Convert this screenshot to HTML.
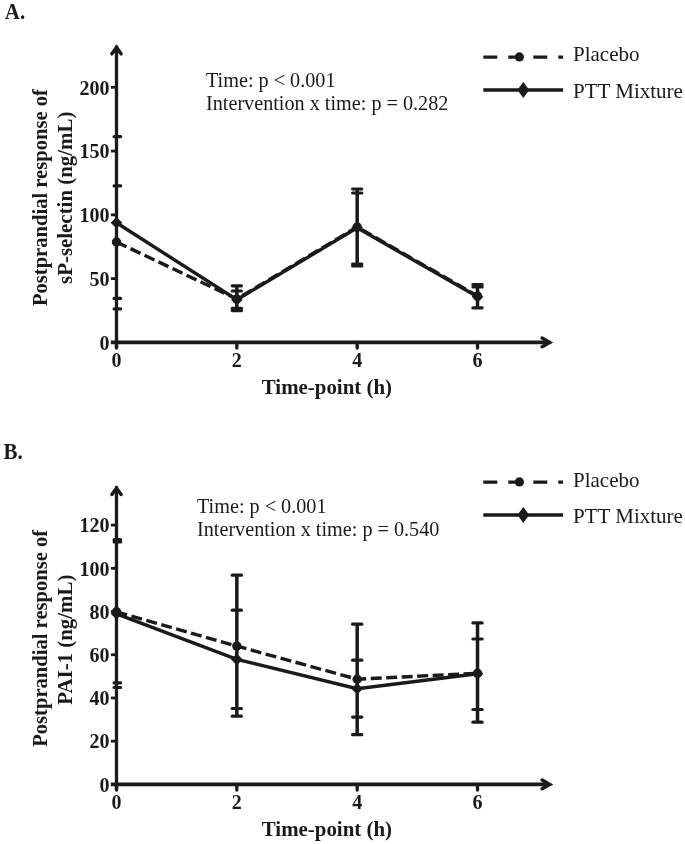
<!DOCTYPE html>
<html><head><meta charset="utf-8"><style>
html,body{margin:0;padding:0;background:#fff;}
svg{display:block;will-change:transform;}
.b{font-family:'Liberation Serif', serif;font-weight:bold;fill:#1a1a1a;}
.r{font-family:'Liberation Serif', serif;font-weight:normal;fill:#1a1a1a;}
</style></head><body>
<svg width="685" height="844" viewBox="0 0 685 844">
<rect width="685" height="844" fill="#fff"/>
<text transform="translate(4.8,18.7) scale(1,1.09)" class="b" font-size="21">A.</text>
<line x1="116.5" y1="45.6" x2="116.5" y2="348.0" stroke="#1a1a1a" stroke-width="3.3"/>
<polyline points="111.9,53.8 116.5,47.5 121.1,53.8" fill="none" stroke="#1a1a1a" stroke-width="3.5" stroke-linecap="round" stroke-linejoin="miter"/>
<line x1="110.9" y1="342.4" x2="549" y2="342.4" stroke="#1a1a1a" stroke-width="3.8"/>
<polyline points="542.1,338.09999999999997 549.7,342.4 542.1,346.7" fill="none" stroke="#1a1a1a" stroke-width="3.5" stroke-linecap="round" stroke-linejoin="miter"/>
<line x1="110.9" y1="342.40" x2="116.5" y2="342.40" stroke="#1a1a1a" stroke-width="2.8"/>
<text x="109.5" y="349.60" class="b" font-size="20" text-anchor="end">0</text>
<line x1="110.9" y1="278.62" x2="116.5" y2="278.62" stroke="#1a1a1a" stroke-width="2.8"/>
<text x="109.5" y="285.82" class="b" font-size="20" text-anchor="end">50</text>
<line x1="110.9" y1="214.85" x2="116.5" y2="214.85" stroke="#1a1a1a" stroke-width="2.8"/>
<text x="109.5" y="222.05" class="b" font-size="20" text-anchor="end">100</text>
<line x1="110.9" y1="151.07" x2="116.5" y2="151.07" stroke="#1a1a1a" stroke-width="2.8"/>
<text x="109.5" y="158.27" class="b" font-size="20" text-anchor="end">150</text>
<line x1="110.9" y1="87.30" x2="116.5" y2="87.30" stroke="#1a1a1a" stroke-width="2.8"/>
<text x="109.5" y="94.50" class="b" font-size="20" text-anchor="end">200</text>
<line x1="116.50" y1="342.4" x2="116.50" y2="348.0" stroke="#1a1a1a" stroke-width="3.3" stroke-linecap="round"/>
<text x="116.50" y="367.1" class="b" font-size="20" text-anchor="middle">0</text>
<line x1="236.84" y1="342.4" x2="236.84" y2="348.0" stroke="#1a1a1a" stroke-width="3.3" stroke-linecap="round"/>
<text x="236.84" y="367.1" class="b" font-size="20" text-anchor="middle">2</text>
<line x1="357.18" y1="342.4" x2="357.18" y2="348.0" stroke="#1a1a1a" stroke-width="3.3" stroke-linecap="round"/>
<text x="357.18" y="367.1" class="b" font-size="20" text-anchor="middle">4</text>
<line x1="477.52" y1="342.4" x2="477.52" y2="348.0" stroke="#1a1a1a" stroke-width="3.3" stroke-linecap="round"/>
<text x="477.52" y="367.1" class="b" font-size="20" text-anchor="middle">6</text>
<text x="326.9" y="393.9" class="b" font-size="20.9" text-anchor="middle">Time-point (h)</text>
<g transform="translate(46.8,197.6) rotate(-90)"><text x="0" y="0" class="b" font-size="20.6" text-anchor="middle">Postprandial response of</text></g>
<g transform="translate(72.1,197.8) rotate(-90)"><text x="0" y="0" class="b" font-size="20.9" text-anchor="middle">sP-selectin (ng/mL)</text></g>
<text x="206" y="87.3" class="r" font-size="20.2">Time: p &lt; 0.001</text>
<text x="206" y="110.1" class="r" font-size="20.2">Intervention x time: p = 0.282</text>
<line x1="483.3" y1="57.1" x2="563.1" y2="57.1" stroke="#1a1a1a" stroke-width="3.4" stroke-dasharray="14,11" />
<circle cx="519.4" cy="56.9" r="4.6" fill="#1a1a1a"/>
<line x1="483.3" y1="90" x2="563.1" y2="90" stroke="#1a1a1a" stroke-width="3.4"/>
<polygon points="523.3,81.9 529.2,90 523.3,98.1 517.4,90" fill="#1a1a1a"/>
<text x="573" y="61.4" class="r" font-size="21">Placebo</text>
<text x="573" y="98" class="r" font-size="21">PTT Mixture</text>
<line x1="114.10" y1="136.6" x2="120.60" y2="136.6" stroke="#1a1a1a" stroke-width="3.2" stroke-linecap="round"/>
<line x1="114.10" y1="185.9" x2="120.60" y2="185.9" stroke="#1a1a1a" stroke-width="3.2" stroke-linecap="round"/>
<line x1="114.10" y1="298.4" x2="120.60" y2="298.4" stroke="#1a1a1a" stroke-width="3.2" stroke-linecap="round"/>
<line x1="114.10" y1="308.9" x2="120.60" y2="308.9" stroke="#1a1a1a" stroke-width="3.2" stroke-linecap="round"/>
<line x1="236.84" y1="285.8" x2="236.84" y2="310.6" stroke="#1a1a1a" stroke-width="3.5"/>
<line x1="232.24" y1="285.8" x2="241.44" y2="285.8" stroke="#1a1a1a" stroke-width="3.2" stroke-linecap="round"/>
<line x1="232.24" y1="291" x2="241.44" y2="291" stroke="#1a1a1a" stroke-width="3.2" stroke-linecap="round"/>
<line x1="232.24" y1="308.3" x2="241.44" y2="308.3" stroke="#1a1a1a" stroke-width="3.2" stroke-linecap="round"/>
<line x1="232.24" y1="310.6" x2="241.44" y2="310.6" stroke="#1a1a1a" stroke-width="3.2" stroke-linecap="round"/>
<line x1="357.18" y1="189" x2="357.18" y2="266" stroke="#1a1a1a" stroke-width="3.5"/>
<line x1="352.58" y1="189" x2="361.78" y2="189" stroke="#1a1a1a" stroke-width="3.2" stroke-linecap="round"/>
<line x1="352.58" y1="193" x2="361.78" y2="193" stroke="#1a1a1a" stroke-width="3.2" stroke-linecap="round"/>
<line x1="352.58" y1="264" x2="361.78" y2="264" stroke="#1a1a1a" stroke-width="3.2" stroke-linecap="round"/>
<line x1="352.58" y1="266" x2="361.78" y2="266" stroke="#1a1a1a" stroke-width="3.2" stroke-linecap="round"/>
<line x1="477.52" y1="284.5" x2="477.52" y2="307.8" stroke="#1a1a1a" stroke-width="3.5"/>
<line x1="472.92" y1="284.5" x2="482.12" y2="284.5" stroke="#1a1a1a" stroke-width="3.2" stroke-linecap="round"/>
<line x1="472.92" y1="287" x2="482.12" y2="287" stroke="#1a1a1a" stroke-width="3.2" stroke-linecap="round"/>
<line x1="472.92" y1="307.8" x2="482.12" y2="307.8" stroke="#1a1a1a" stroke-width="3.2" stroke-linecap="round"/>
<polyline points="116.50,242 236.84,299.0 357.18,227.0 477.52,296.0" fill="none" stroke="#1a1a1a" stroke-width="3.4" stroke-dasharray="11,4.5"/>
<polyline points="116.50,222.8 236.84,299.8 357.18,227.8 477.52,296.8" fill="none" stroke="#1a1a1a" stroke-width="3.4"/>
<circle cx="116.50" cy="242" r="4.7" fill="#1a1a1a"/>
<circle cx="236.84" cy="299.0" r="4.7" fill="#1a1a1a"/>
<circle cx="357.18" cy="227.0" r="4.7" fill="#1a1a1a"/>
<circle cx="477.52" cy="296.0" r="4.7" fill="#1a1a1a"/>
<polygon points="116.50,217.0 122.30,222.8 116.50,228.60000000000002 110.70,222.8" fill="#1a1a1a"/>
<polygon points="236.84,294.0 242.64,299.8 236.84,305.6 231.04,299.8" fill="#1a1a1a"/>
<polygon points="357.18,222.0 362.98,227.8 357.18,233.60000000000002 351.38,227.8" fill="#1a1a1a"/>
<polygon points="477.52,291.0 483.32,296.8 477.52,302.6 471.72,296.8" fill="#1a1a1a"/>
<text transform="translate(3.6,459.3) scale(1,1.09)" class="b" font-size="21">B.</text>
<line x1="116.5" y1="486.3" x2="116.5" y2="790.0" stroke="#1a1a1a" stroke-width="3.3"/>
<polyline points="111.9,494.5 116.5,488.2 121.1,494.5" fill="none" stroke="#1a1a1a" stroke-width="3.5" stroke-linecap="round" stroke-linejoin="miter"/>
<line x1="110.9" y1="784.4" x2="549" y2="784.4" stroke="#1a1a1a" stroke-width="3.8"/>
<polyline points="542.1,780.1 549.7,784.4 542.1,788.6999999999999" fill="none" stroke="#1a1a1a" stroke-width="3.5" stroke-linecap="round" stroke-linejoin="miter"/>
<line x1="110.9" y1="784.40" x2="116.5" y2="784.40" stroke="#1a1a1a" stroke-width="2.8"/>
<text x="109.5" y="791.60" class="b" font-size="20" text-anchor="end">0</text>
<line x1="110.9" y1="741.18" x2="116.5" y2="741.18" stroke="#1a1a1a" stroke-width="2.8"/>
<text x="109.5" y="748.38" class="b" font-size="20" text-anchor="end">20</text>
<line x1="110.9" y1="697.96" x2="116.5" y2="697.96" stroke="#1a1a1a" stroke-width="2.8"/>
<text x="109.5" y="705.16" class="b" font-size="20" text-anchor="end">40</text>
<line x1="110.9" y1="654.74" x2="116.5" y2="654.74" stroke="#1a1a1a" stroke-width="2.8"/>
<text x="109.5" y="661.94" class="b" font-size="20" text-anchor="end">60</text>
<line x1="110.9" y1="611.52" x2="116.5" y2="611.52" stroke="#1a1a1a" stroke-width="2.8"/>
<text x="109.5" y="618.72" class="b" font-size="20" text-anchor="end">80</text>
<line x1="110.9" y1="568.30" x2="116.5" y2="568.30" stroke="#1a1a1a" stroke-width="2.8"/>
<text x="109.5" y="575.50" class="b" font-size="20" text-anchor="end">100</text>
<line x1="110.9" y1="525.08" x2="116.5" y2="525.08" stroke="#1a1a1a" stroke-width="2.8"/>
<text x="109.5" y="532.28" class="b" font-size="20" text-anchor="end">120</text>
<line x1="116.50" y1="784.4" x2="116.50" y2="790.0" stroke="#1a1a1a" stroke-width="3.3" stroke-linecap="round"/>
<text x="116.50" y="809" class="b" font-size="20" text-anchor="middle">0</text>
<line x1="236.84" y1="784.4" x2="236.84" y2="790.0" stroke="#1a1a1a" stroke-width="3.3" stroke-linecap="round"/>
<text x="236.84" y="809" class="b" font-size="20" text-anchor="middle">2</text>
<line x1="357.18" y1="784.4" x2="357.18" y2="790.0" stroke="#1a1a1a" stroke-width="3.3" stroke-linecap="round"/>
<text x="357.18" y="809" class="b" font-size="20" text-anchor="middle">4</text>
<line x1="477.52" y1="784.4" x2="477.52" y2="790.0" stroke="#1a1a1a" stroke-width="3.3" stroke-linecap="round"/>
<text x="477.52" y="809" class="b" font-size="20" text-anchor="middle">6</text>
<text x="326.9" y="835.8" class="b" font-size="20.9" text-anchor="middle">Time-point (h)</text>
<g transform="translate(46.80000000000001,638.3) rotate(-90)"><text x="0" y="0" class="b" font-size="20.6" text-anchor="middle">Postprandial response of</text></g>
<g transform="translate(72.1,639.7) rotate(-90)"><text x="0" y="0" class="b" font-size="20.9" text-anchor="middle">PAI-1 (ng/mL)</text></g>
<text x="197" y="512.8" class="r" font-size="20.2">Time: p &lt; 0.001</text>
<text x="197" y="535.5" class="r" font-size="20.2">Intervention x time: p = 0.540</text>
<line x1="483.3" y1="482.1" x2="563.1" y2="482.1" stroke="#1a1a1a" stroke-width="3.4" stroke-dasharray="14,11" />
<circle cx="519.4" cy="481.90000000000003" r="4.6" fill="#1a1a1a"/>
<line x1="483.3" y1="515" x2="563.1" y2="515" stroke="#1a1a1a" stroke-width="3.4"/>
<polygon points="523.3,506.9 529.2,515 523.3,523.1 517.4,515" fill="#1a1a1a"/>
<text x="573" y="486.7" class="r" font-size="21">Placebo</text>
<text x="573" y="523" class="r" font-size="21">PTT Mixture</text>
<line x1="114.10" y1="539.7" x2="120.60" y2="539.7" stroke="#1a1a1a" stroke-width="3.2" stroke-linecap="round"/>
<line x1="114.10" y1="541.9" x2="120.60" y2="541.9" stroke="#1a1a1a" stroke-width="3.2" stroke-linecap="round"/>
<line x1="114.10" y1="682.8" x2="120.60" y2="682.8" stroke="#1a1a1a" stroke-width="3.2" stroke-linecap="round"/>
<line x1="114.10" y1="687.5" x2="120.60" y2="687.5" stroke="#1a1a1a" stroke-width="3.2" stroke-linecap="round"/>
<line x1="236.84" y1="575.2" x2="236.84" y2="716.2" stroke="#1a1a1a" stroke-width="3.5"/>
<line x1="232.24" y1="575.2" x2="241.44" y2="575.2" stroke="#1a1a1a" stroke-width="3.2" stroke-linecap="round"/>
<line x1="232.24" y1="610.2" x2="241.44" y2="610.2" stroke="#1a1a1a" stroke-width="3.2" stroke-linecap="round"/>
<line x1="232.24" y1="708.5" x2="241.44" y2="708.5" stroke="#1a1a1a" stroke-width="3.2" stroke-linecap="round"/>
<line x1="232.24" y1="716.2" x2="241.44" y2="716.2" stroke="#1a1a1a" stroke-width="3.2" stroke-linecap="round"/>
<line x1="357.18" y1="624.2" x2="357.18" y2="734.7" stroke="#1a1a1a" stroke-width="3.5"/>
<line x1="352.58" y1="624.2" x2="361.78" y2="624.2" stroke="#1a1a1a" stroke-width="3.2" stroke-linecap="round"/>
<line x1="352.58" y1="660.2" x2="361.78" y2="660.2" stroke="#1a1a1a" stroke-width="3.2" stroke-linecap="round"/>
<line x1="352.58" y1="717.1" x2="361.78" y2="717.1" stroke="#1a1a1a" stroke-width="3.2" stroke-linecap="round"/>
<line x1="352.58" y1="734.7" x2="361.78" y2="734.7" stroke="#1a1a1a" stroke-width="3.2" stroke-linecap="round"/>
<line x1="477.52" y1="622.9" x2="477.52" y2="722.2" stroke="#1a1a1a" stroke-width="3.5"/>
<line x1="472.92" y1="622.9" x2="482.12" y2="622.9" stroke="#1a1a1a" stroke-width="3.2" stroke-linecap="round"/>
<line x1="472.92" y1="639" x2="482.12" y2="639" stroke="#1a1a1a" stroke-width="3.2" stroke-linecap="round"/>
<line x1="472.92" y1="709.5" x2="482.12" y2="709.5" stroke="#1a1a1a" stroke-width="3.2" stroke-linecap="round"/>
<line x1="472.92" y1="722.2" x2="482.12" y2="722.2" stroke="#1a1a1a" stroke-width="3.2" stroke-linecap="round"/>
<polyline points="116.50,611.8 236.84,646.1 357.18,679.2 477.52,673.2" fill="none" stroke="#1a1a1a" stroke-width="3.4" stroke-dasharray="11,4.5"/>
<polyline points="116.50,613.8 236.84,659.4 357.18,688.7 477.52,673.8" fill="none" stroke="#1a1a1a" stroke-width="3.4"/>
<circle cx="116.50" cy="611.8" r="4.7" fill="#1a1a1a"/>
<circle cx="236.84" cy="646.1" r="4.7" fill="#1a1a1a"/>
<circle cx="357.18" cy="679.2" r="4.7" fill="#1a1a1a"/>
<circle cx="477.52" cy="673.2" r="4.7" fill="#1a1a1a"/>
<polygon points="116.50,608.0 122.30,613.8 116.50,619.5999999999999 110.70,613.8" fill="#1a1a1a"/>
<polygon points="236.84,653.6 242.64,659.4 236.84,665.1999999999999 231.04,659.4" fill="#1a1a1a"/>
<polygon points="357.18,682.9000000000001 362.98,688.7 357.18,694.5 351.38,688.7" fill="#1a1a1a"/>
<polygon points="477.52,668.0 483.32,673.8 477.52,679.5999999999999 471.72,673.8" fill="#1a1a1a"/>
</svg>
</body></html>
